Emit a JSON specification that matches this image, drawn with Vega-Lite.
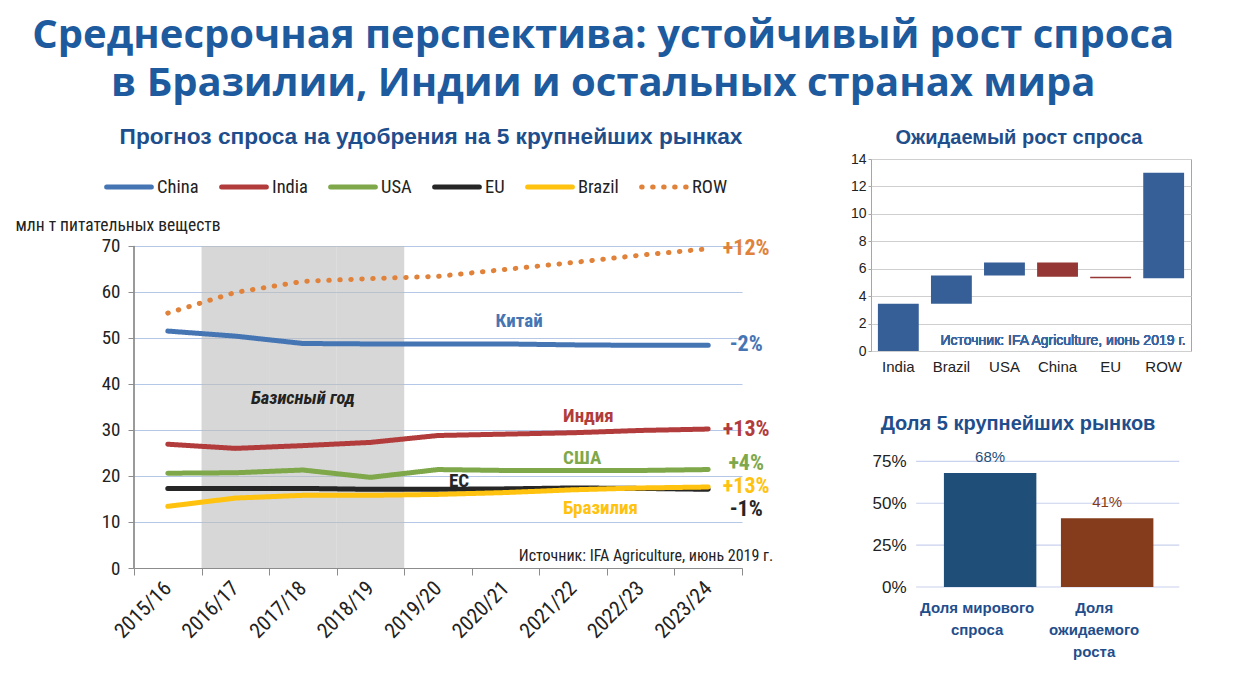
{
  "$schema": "https://vega.github.io/schema/vega-lite/v6.json",
  "background": "white",
  "padding": {"left": 15, "top": 16, "right": 20, "bottom": 5},
  "title": {
    "text": ["Среднесрочная перспектива: устойчивый рост спроса", "в Бразилии, Индии и остальных странах мира"],
    "font": "Open Sans", "fontSize": 40, "fontWeight": "bold", "color": "#1d5a9e",
    "lineHeight": 48, "anchor": "middle", "offset": 22
  },
  "config": {
    "view": {"stroke": null},
    "font": "Liberation Sans Narrow, Arial Narrow, Roboto Condensed, DejaVu Sans Condensed, sans-serif"
  },
  "align": "none",
  "resolve": {
    "scale": {"color": "independent", "strokeDash": "independent"},
    "legend": {"color": "independent", "strokeDash": "independent"}
  },
  "datasets": {
    "demand": [
      {"period": "2015/16", "series": "China", "value": 51.5},
      {"period": "2016/17", "series": "China", "value": 50.4},
      {"period": "2017/18", "series": "China", "value": 48.8},
      {"period": "2018/19", "series": "China", "value": 48.7},
      {"period": "2019/20", "series": "China", "value": 48.7},
      {"period": "2020/21", "series": "China", "value": 48.7},
      {"period": "2021/22", "series": "China", "value": 48.5},
      {"period": "2022/23", "series": "China", "value": 48.4},
      {"period": "2023/24", "series": "China", "value": 48.4},
      {"period": "2015/16", "series": "India", "value": 26.9},
      {"period": "2016/17", "series": "India", "value": 26.0},
      {"period": "2017/18", "series": "India", "value": 26.6},
      {"period": "2018/19", "series": "India", "value": 27.3},
      {"period": "2019/20", "series": "India", "value": 28.8},
      {"period": "2020/21", "series": "India", "value": 29.1},
      {"period": "2021/22", "series": "India", "value": 29.4},
      {"period": "2022/23", "series": "India", "value": 29.9},
      {"period": "2023/24", "series": "India", "value": 30.2},
      {"period": "2015/16", "series": "USA", "value": 20.6},
      {"period": "2016/17", "series": "USA", "value": 20.7},
      {"period": "2017/18", "series": "USA", "value": 21.3},
      {"period": "2018/19", "series": "USA", "value": 19.7},
      {"period": "2019/20", "series": "USA", "value": 21.4},
      {"period": "2020/21", "series": "USA", "value": 21.2},
      {"period": "2021/22", "series": "USA", "value": 21.2},
      {"period": "2022/23", "series": "USA", "value": 21.2},
      {"period": "2023/24", "series": "USA", "value": 21.4},
      {"period": "2015/16", "series": "EU", "value": 17.3},
      {"period": "2016/17", "series": "EU", "value": 17.3},
      {"period": "2017/18", "series": "EU", "value": 17.3},
      {"period": "2018/19", "series": "EU", "value": 17.1},
      {"period": "2019/20", "series": "EU", "value": 17.1},
      {"period": "2020/21", "series": "EU", "value": 17.2},
      {"period": "2021/22", "series": "EU", "value": 17.4},
      {"period": "2022/23", "series": "EU", "value": 17.3},
      {"period": "2023/24", "series": "EU", "value": 17.1},
      {"period": "2015/16", "series": "Brazil", "value": 13.4},
      {"period": "2016/17", "series": "Brazil", "value": 15.2},
      {"period": "2017/18", "series": "Brazil", "value": 15.8},
      {"period": "2018/19", "series": "Brazil", "value": 15.8},
      {"period": "2019/20", "series": "Brazil", "value": 16.0},
      {"period": "2020/21", "series": "Brazil", "value": 16.4},
      {"period": "2021/22", "series": "Brazil", "value": 17.0},
      {"period": "2022/23", "series": "Brazil", "value": 17.4},
      {"period": "2023/24", "series": "Brazil", "value": 17.6},
      {"period": "2015/16", "series": "ROW", "value": 55.4},
      {"period": "2016/17", "series": "ROW", "value": 59.9},
      {"period": "2017/18", "series": "ROW", "value": 62.3},
      {"period": "2018/19", "series": "ROW", "value": 62.9},
      {"period": "2019/20", "series": "ROW", "value": 63.4},
      {"period": "2020/21", "series": "ROW", "value": 64.9},
      {"period": "2021/22", "series": "ROW", "value": 66.4},
      {"period": "2022/23", "series": "ROW", "value": 68.0},
      {"period": "2023/24", "series": "ROW", "value": 69.4}
    ],
    "baseYears": [{"period": "2016/17"}, {"period": "2017/18"}, {"period": "2018/19"}],
    "seriesLabels": [
      {"series": "China", "text": "Китай", "period": "2020/21", "value": 53.7},
      {"series": "India", "text": "Индия", "period": "2021/22", "value": 33.0},
      {"series": "USA", "text": "США", "period": "2021/22", "value": 23.9},
      {"series": "Brazil", "text": "Бразилия", "period": "2021/22", "value": 13.0}
    ],
    "euLabel": [{"series": "EU", "text": "ЕС", "period": "2019/20", "value": 18.9}],
    "changes": [
      {"series": "ROW", "text": "+12%", "period": "2023/24", "value": 69.6},
      {"series": "China", "text": "-2%", "period": "2023/24", "value": 48.7},
      {"series": "India", "text": "+13%", "period": "2023/24", "value": 30.2},
      {"series": "USA", "text": "+4%", "period": "2023/24", "value": 22.8},
      {"series": "Brazil", "text": "+13%", "period": "2023/24", "value": 17.8},
      {"series": "EU", "text": "-1%", "period": "2023/24", "value": 12.8}
    ],
    "notes": [{"text": "Базисный год", "period": "2017/18", "value": 37}],
    "source": [{"text": "Источник: IFA Agriculture, июнь 2019 г.", "period": "2023/24", "value": 0.8}],
    "growth": [
      {"market": "India", "start": 0, "end": 3.45, "change": "up"},
      {"market": "Brazil", "start": 3.45, "end": 5.5, "change": "up"},
      {"market": "USA", "start": 5.5, "end": 6.45, "change": "up"},
      {"market": "China", "start": 6.45, "end": 5.42, "change": "down"},
      {"market": "EU", "start": 5.42, "end": 5.3, "change": "down"},
      {"market": "ROW", "start": 5.3, "end": 13.0, "change": "up"}
    ],
    "shares": [
      {"group": "Доля мирового спроса", "share": 0.68},
      {"group": "Доля ожидаемого роста", "share": 0.41}
    ],
    "shareTicks": [{"tick": 0}, {"tick": 0.25}, {"tick": 0.5}, {"tick": 0.75}]
  },
  "hconcat": [
    {
      "width": 608,
      "height": 409,
      "title": {
        "text": "Прогноз спроса на удобрения на 5 крупнейших рынках",
        "font": "Liberation Sans, Arial, sans-serif", "fontSize": 22.7, "fontWeight": "bold", "color": "#1f4e8c",
        "anchor": "middle", "frame": "group", "offset": 10, "dx": -7
      },
      "layer": [
        {
          "data": {"name": "baseYears"},
          "mark": {"type": "bar", "color": "#bdbdbd", "opacity": 0.6},
          "encoding": {
            "x": {"field": "period", "type": "nominal", "scale": {"type": "band", "paddingInner": 0, "paddingOuter": 0, "domain": ["2015/16", "2016/17", "2017/18", "2018/19", "2019/20", "2020/21", "2021/22", "2022/23", "2023/24"]}, "title": null},
            "y": {"datum": 70, "type": "quantitative"},
            "y2": {"datum": 0}
          }
        },
        {
          "data": {"name": "baseYears"},
          "mark": {"type": "rule", "color": "#8c8c8c", "strokeWidth": 1},
          "encoding": {
            "x": {"datum": "2015/16", "type": "nominal", "bandPosition": 0},
            "y": {"datum": 0, "type": "quantitative"},
            "y2": {"datum": 70}
          }
        },
        {
          "data": {"name": "demand"},
          "mark": {"type": "line", "strokeWidth": 5, "strokeCap": "round", "strokeJoin": "round"},
          "encoding": {
            "x": {
              "field": "period", "type": "nominal",
              "scale": {"type": "band", "paddingInner": 0, "paddingOuter": 0, "domain": ["2015/16", "2016/17", "2017/18", "2018/19", "2019/20", "2020/21", "2021/22", "2022/23", "2023/24"]},
              "title": null,
              "axis": {
                "tickBand": "extent", "bandPosition": 0.5, "labelAngle": -45, "labelAlign": "right", "labelBaseline": "middle",
                "labelFontSize": 21, "labelPadding": 10, "labelColor": "#222222",
                "domainColor": "#8c8c8c", "tickColor": "#8c8c8c", "tickSize": 7, "grid": false
              }
            },
            "y": {
              "field": "value", "type": "quantitative",
              "scale": {"domain": [0, 88.9], "nice": false},
              "axis": {
                "values": [0, 10, 20, 30, 40, 50, 60, 70], "grid": true, "gridColor": "#b4c7e7", "gridWidth": 1.2,
                "domain": false, "tickColor": "#8c8c8c", "tickSize": 6,
                "labelFontSize": 19, "labelColor": "#222222", "labelPadding": 8,
                "title": "млн т питательных веществ", "titleAngle": 0, "titleAlign": "left", "titleBaseline": "bottom",
                "titleX": -119, "titleY": 75, "titleFontSize": 17.5, "titleFontWeight": "normal", "titleColor": "#222222"
              }
            },
            "color": {
              "field": "series", "type": "nominal",
              "scale": {"domain": ["China", "India", "USA", "EU", "Brazil", "ROW"], "range": ["#4675b4", "#b23c3c", "#7ea84a", "#262626", "#ffc20e", "#e0823a"]},
              "legend": {
                "orient": "none", "legendX": -30, "legendY": 3, "direction": "horizontal", "title": null,
                "symbolType": "stroke", "symbolSize": 2000, "symbolStrokeWidth": 5,
                "labelFontSize": 18.5, "labelColor": "#222222", "labelOffset": 3, "columnPadding": 12, "gridAlign": "none",
                "encode": {"symbols": {"update": {"strokeCap": {"value": "round"}}}}
              }
            },
            "strokeDash": {
              "field": "series", "type": "nominal",
              "scale": {"domain": ["China", "India", "USA", "EU", "Brazil", "ROW"], "range": [[1, 0], [1, 0], [1, 0], [1, 0], [1, 0], [0.5, 10.5]]}
            }
          }
        },
        {
          "data": {"name": "seriesLabels"},
          "mark": {"type": "text", "align": "left", "dx": -10, "fontSize": 19, "fontWeight": "bold"},
          "encoding": {
            "x": {"field": "period", "type": "nominal"},
            "y": {"field": "value", "type": "quantitative"},
            "text": {"field": "text"},
            "color": {"field": "series", "type": "nominal"}
          }
        },
        {
          "data": {"name": "euLabel"},
          "mark": {"type": "text", "align": "left", "dx": 11, "fontSize": 19, "fontWeight": "bold"},
          "encoding": {
            "x": {"field": "period", "type": "nominal"},
            "y": {"field": "value", "type": "quantitative"},
            "text": {"field": "text"},
            "color": {"field": "series", "type": "nominal"}
          }
        },
        {
          "data": {"name": "changes"},
          "mark": {"type": "text", "align": "center", "dx": 38, "fontSize": 22, "fontWeight": "bold"},
          "encoding": {
            "x": {"field": "period", "type": "nominal"},
            "y": {"field": "value", "type": "quantitative"},
            "text": {"field": "text"},
            "color": {"field": "series", "type": "nominal"}
          }
        },
        {
          "data": {"name": "notes"},
          "mark": {"type": "text", "align": "center", "fontSize": 18.5, "fontWeight": "bold", "fontStyle": "italic", "color": "#222222"},
          "encoding": {
            "x": {"field": "period", "type": "nominal"},
            "y": {"field": "value", "type": "quantitative"},
            "text": {"field": "text"}
          }
        },
        {
          "data": {"name": "source"},
          "mark": {"type": "text", "align": "right", "baseline": "bottom", "dx": 65, "fontSize": 16, "color": "#222222"},
          "encoding": {
            "x": {"field": "period", "type": "nominal"},
            "y": {"field": "value", "type": "quantitative"},
            "text": {"field": "text"}
          }
        }
      ]
    },
    {
      "spacing": 39,
      "align": "none",
      "resolve": {"scale": {"color": "independent"}, "legend": {"color": "independent"}},
      "vconcat": [
        {
          "width": 320,
          "height": 192,
          "view": {"stroke": "#a6a6a6", "strokeWidth": 1},
          "title": {
            "text": "Ожидаемый рост спроса", "font": "Liberation Sans, Arial, sans-serif", "fontSize": 20, "fontWeight": "bold", "color": "#1f4e8c",
            "anchor": "middle", "frame": "group", "dx": -12, "offset": 4
          },
          "data": {"name": "growth"},
          "layer": [
            {
              "mark": {"type": "bar"},
              "encoding": {
                "x": {
                  "field": "market", "type": "nominal", "sort": null,
                  "scale": {"paddingInner": 0.23, "paddingOuter": 0.13},
                  "title": null,
                  "axis": {"labelAngle": 0, "labelFont": "Liberation Sans, Arial, sans-serif", "labelFontSize": 15, "labelColor": "#222222", "ticks": false, "domain": false, "labelPadding": 8}
                },
                "y": {
                  "field": "start", "type": "quantitative",
                  "scale": {"domain": [0, 14], "nice": false},
                  "title": null,
                  "axis": {"values": [0, 2, 4, 6, 8, 10, 12, 14], "grid": true, "labelOverlap": false, "labelFont": "Liberation Sans, Arial, sans-serif", "labelFontSize": 14, "labelColor": "#222222", "gridColor": "#cfcfcf", "domain": false, "tickColor": "#a6a6a6", "tickSize": 3, "labelPadding": 2}
                },
                "y2": {"field": "end"},
                "color": {
                  "field": "change", "type": "nominal",
                  "scale": {"domain": ["up", "down"], "range": ["#365f97", "#953735"]},
                  "legend": null
                }
              }
            },
            {
              "mark": {"type": "text", "align": "right", "baseline": "bottom", "dx": 22, "font": "Liberation Sans, Arial, sans-serif", "fontSize": 14, "fontWeight": "normal", "color": "#3a64a0"},
              "encoding": {
                "x": {
                  "datum": "ROW", "type": "nominal",
                  "axis": {"labelAngle": 0, "labelFont": "Liberation Sans, Arial, sans-serif", "labelFontSize": 15, "labelColor": "#222222", "ticks": false, "domain": false, "labelPadding": 8}
                },
                "y": {
                  "datum": 0.25, "type": "quantitative",
                  "axis": {"values": [0, 2, 4, 6, 8, 10, 12, 14], "grid": true, "labelOverlap": false, "labelFont": "Liberation Sans, Arial, sans-serif", "labelFontSize": 14, "labelColor": "#222222", "gridColor": "#cfcfcf", "domain": false, "tickColor": "#a6a6a6", "tickSize": 3, "labelPadding": 2}
                },
                "text": {"value": "Источник: IFA Agriculture, июнь 2019 г."}
              }
            }
          ]
        },
        {
          "width": 308,
          "height": 134,
          "title": {
            "text": "Доля 5 крупнейших рынков", "font": "Liberation Sans, Arial, sans-serif", "fontSize": 20, "fontWeight": "bold", "color": "#1f4e8c",
            "anchor": "middle", "frame": "group", "dx": -7, "offset": 16
          },
          "layer": [
            {
              "data": {"name": "shareTicks"},
              "mark": {"type": "rule", "color": "#c9d2ee", "strokeWidth": 1.2},
              "encoding": {
                "y": {"field": "tick", "type": "quantitative"},
                "x": {"datum": "Доля мирового спроса", "type": "nominal", "bandPosition": -0.3},
                "x2": {"datum": "Доля ожидаемого роста", "bandPosition": 1.28}
              }
            },
            {
              "data": {"name": "shares"},
              "mark": {"type": "bar"},
              "encoding": {
                "x": {
                  "field": "group", "type": "nominal", "sort": null,
                  "scale": {"domain": ["Доля мирового спроса", "Доля ожидаемого роста"], "paddingInner": 0.21, "paddingOuter": 0.421, "align": 0.74},
                  "title": null,
                  "axis": {
                    "bandPosition": 0.5, "labelAlign": "center", "labelOffset": -13,
                    "labelAngle": 0, "labelBaseline": "top", "labelFont": "Liberation Sans, Arial, sans-serif", "labelFontSize": 15, "labelFontWeight": "bold", "labelColor": "#1f4e8c",
                    "labelLineHeight": 22, "labelPadding": 13, "ticks": false, "domain": false,
                    "labelExpr": "datum.value == 'Доля мирового спроса' ? ['Доля мирового', 'спроса'] : ['Доля', 'ожидаемого', 'роста']"
                  }
                },
                "y": {
                  "field": "share", "type": "quantitative",
                  "scale": {"domain": [0, 0.8], "nice": false},
                  "title": null,
                  "axis": {"values": [0, 0.25, 0.5, 0.75], "format": ".0%", "grid": false, "labelFont": "Liberation Sans, Arial, sans-serif", "labelFontSize": 17, "labelColor": "#222222", "domain": false, "ticks": false, "labelPadding": 10, "offset": -45}
                },
                "color": {
                  "field": "group", "type": "nominal",
                  "scale": {"domain": ["Доля мирового спроса", "Доля ожидаемого роста"], "range": ["#1f4e79", "#843c1c"]},
                  "legend": null
                }
              }
            },
            {
              "data": {"name": "shares"},
              "mark": {"type": "text", "baseline": "bottom", "dy": -8, "font": "Liberation Sans, Arial, sans-serif", "fontSize": 15},
              "encoding": {
                "x": {"field": "group", "type": "nominal", "sort": null},
                "y": {"field": "share", "type": "quantitative"},
                "text": {"field": "share", "type": "quantitative", "format": ".0%"},
                "color": {"field": "group", "type": "nominal", "legend": null}
              }
            }
          ]
        }
      ]
    }
  ],
  "spacing": 75
}
